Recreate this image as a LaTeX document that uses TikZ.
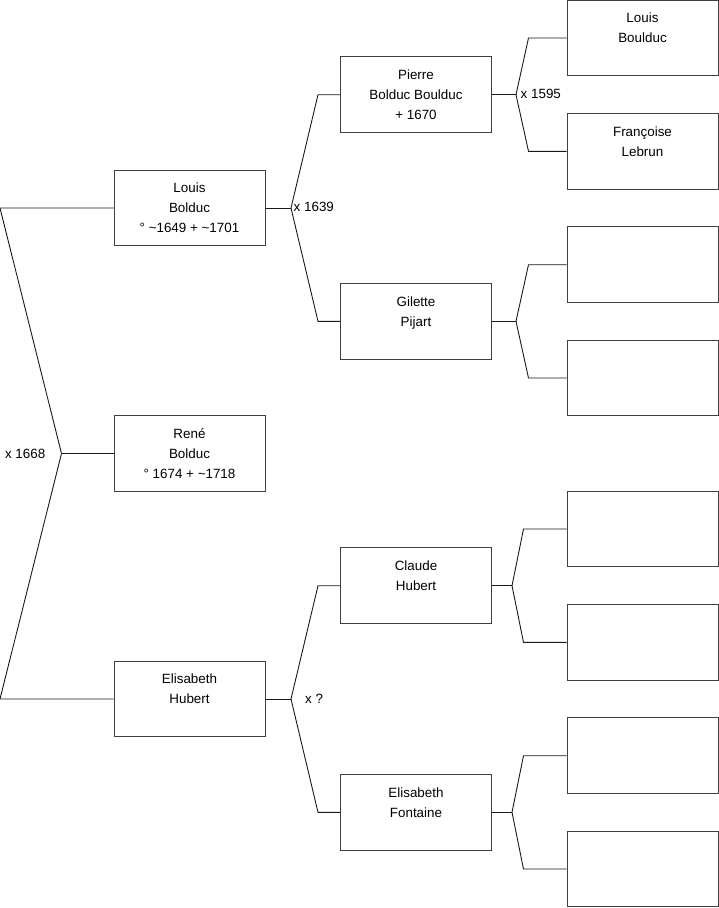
\documentclass[tikz,border=0pt]{standalone}
\usepackage{fontspec}
\setmainfont{Liberation Sans}
\usetikzlibrary{positioning}

\begin{document}
\begin{tikzpicture}[
    x=1pt, y=-1pt,
    person/.style={draw=black!75, line width=1pt, minimum width=151pt, minimum height=75.5pt, inner sep=0pt, align=center, font=\fontsize{13.4}{20}\selectfont},
    link/.style={draw=black!90, line width=0.9pt},
    mariage/.style={inner sep=0pt, font=\fontsize{13.4}{16}\selectfont}
  ]
  \useasboundingbox (0,0) rectangle (719,908);

  % generation 0 and 1
  \node[person] (rene) at (189.5,453.5) {René\\Bolduc\\° 1674 + \textasciitilde1718};
  \node[person] (louis) at (189.5,208) {Louis\\Bolduc\\° \textasciitilde1649 + \textasciitilde1701};
  \node[person] (elisabeth) at (189.5,699) {Elisabeth\\Hubert\\~};

  % generation 2
  \node[person] (pierre) at (416,94.7) {Pierre\\Bolduc Boulduc\\+ 1670};
  \node[person] (gilette) at (416,321.3) {Gilette\\Pijart\\~};
  \node[person] (claude) at (416,585.7) {Claude\\Hubert\\~};
  \node[person] (fontaine) at (416,812.3) {Elisabeth\\Fontaine\\~};

  % generation 3
  \node[person] (anc1) at (642.5,38) {Louis\\Boulduc\\~};
  \node[person] (anc2) at (642.5,151.3) {Françoise\\Lebrun\\~};
  \node[person] (anc3) at (642.5,264.7) {};
  \node[person] (anc4) at (642.5,378) {};
  \node[person] (anc5) at (642.5,529) {};
  \node[person] (anc6) at (642.5,642.3) {};
  \node[person] (anc7) at (642.5,755.7) {};
  \node[person] (anc8) at (642.5,869) {};

  % forks
  \draw[link] (rene.west) -- ++(-52,0) coordinate (jrene);
  \draw[link] (jrene) -- ([xshift=-113.5pt]louis.west) -- (louis.west);
  \draw[link] (jrene) -- ([xshift=-113.5pt]elisabeth.west) -- (elisabeth.west);
  \node[mariage, left=16pt of jrene] (m1668) {x 1668};

  \draw[link] (louis.east) -- ++(25.5,0) coordinate (jlouis);
  \draw[link] (jlouis) -- ([xshift=-22pt]pierre.west) -- (pierre.west);
  \draw[link] (jlouis) -- ([xshift=-22pt]gilette.west) -- (gilette.west);
  \node[mariage, right=2.5pt of jlouis, yshift=1pt] (m1639) {x 1639};

  \draw[link] (elisabeth.east) -- ++(25.5,0) coordinate (jelis);
  \draw[link] (jelis) -- ([xshift=-22pt]claude.west) -- (claude.west);
  \draw[link] (jelis) -- ([xshift=-22pt]fontaine.west) -- (fontaine.west);
  \node[mariage, right=14pt of jelis] (mq) {x ?};

  \draw[link] (pierre.east) -- ++(24,0) coordinate (jpierre);
  \draw[link] (jpierre) -- ([xshift=-38pt]anc1.west) -- (anc1.west);
  \draw[link] (jpierre) -- ([xshift=-38pt]anc2.west) -- (anc2.west);
  \node[mariage, right=4.5pt of jpierre, yshift=0.5pt] (m1595) {x 1595};

  \draw[link] (gilette.east) -- ++(24,0) coordinate (jgil);
  \draw[link] (jgil) -- ([xshift=-38pt]anc3.west) -- (anc3.west);
  \draw[link] (jgil) -- ([xshift=-38pt]anc4.west) -- (anc4.west);

  \draw[link] (claude.east) -- ++(20,0) coordinate (jclaude);
  \draw[link] (jclaude) -- ([xshift=-43pt]anc5.west) -- (anc5.west);
  \draw[link] (jclaude) -- ([xshift=-43pt]anc6.west) -- (anc6.west);

  \draw[link] (fontaine.east) -- ++(20,0) coordinate (jfont);
  \draw[link] (jfont) -- ([xshift=-43pt]anc7.west) -- (anc7.west);
  \draw[link] (jfont) -- ([xshift=-43pt]anc8.west) -- (anc8.west);
\end{tikzpicture}
\end{document}
